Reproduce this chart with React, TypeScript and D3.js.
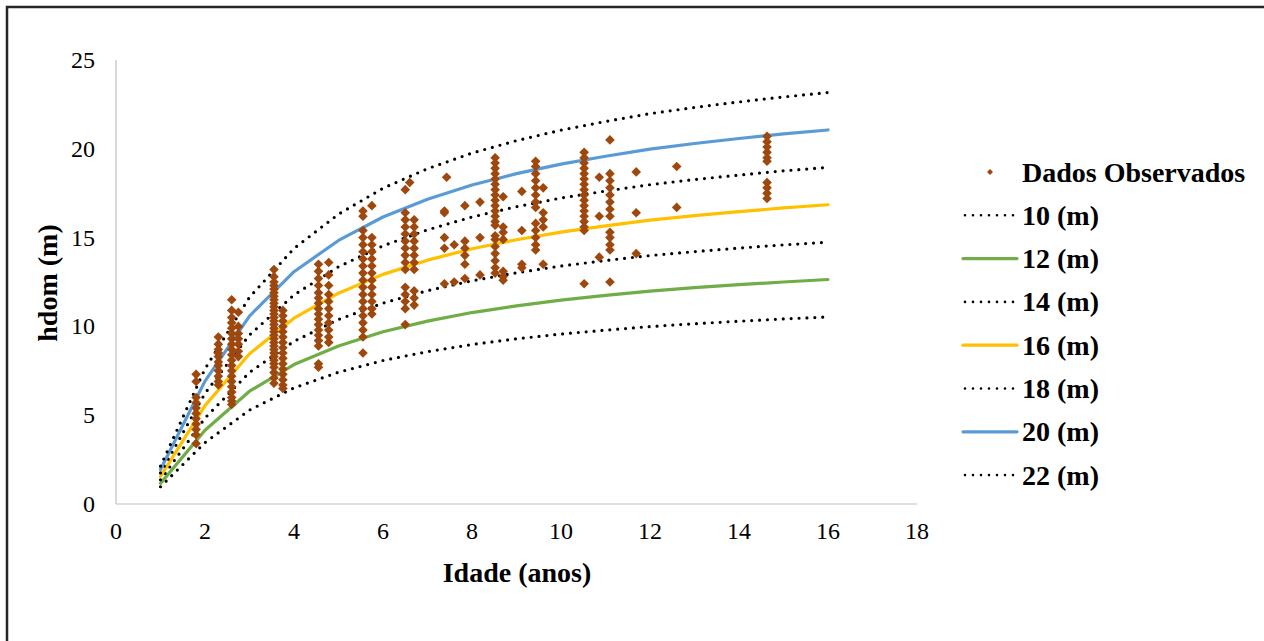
import React from "react";
import * as d3 from "d3";

// ---------- data ----------
const ages = [1, 2, 3, 4, 5, 6, 7, 8, 9, 10, 11, 12, 13, 14, 15, 16];

const curve10 = [0.97, 3.46, 5.29, 6.54, 7.42, 8.08, 8.58, 8.98, 9.3, 9.57, 9.79, 9.99, 10.15, 10.29, 10.42, 10.53];
const curve12 = [1.16, 4.15, 6.35, 7.85, 8.9, 9.7, 10.3, 10.78, 11.16, 11.48, 11.75, 11.99, 12.18, 12.35, 12.5, 12.64];
const curve14 = [1.36, 4.84, 7.41, 9.16, 10.39, 11.31, 12.01, 12.57, 13.02, 13.4, 13.71, 13.99, 14.21, 14.41, 14.59, 14.74];
const curve16 = [1.55, 5.54, 8.46, 10.46, 11.87, 12.93, 13.73, 14.37, 14.88, 15.31, 15.66, 15.98, 16.24, 16.46, 16.67, 16.85];
const curve18 = [1.75, 6.23, 9.52, 11.77, 13.36, 14.54, 15.44, 16.16, 16.74, 17.23, 17.62, 17.98, 18.27, 18.52, 18.76, 18.95];
const curve20 = [1.94, 6.92, 10.58, 13.08, 14.84, 16.16, 17.16, 17.96, 18.6, 19.14, 19.58, 19.98, 20.3, 20.58, 20.84, 21.06];
const curve22 = [2.13, 7.61, 11.64, 14.39, 16.32, 17.78, 18.88, 19.76, 20.46, 21.05, 21.54, 21.98, 22.33, 22.64, 22.92, 23.17];

const seriesNames = ["10 (m)", "12 (m)", "14 (m)", "16 (m)", "18 (m)", "20 (m)", "22 (m)"];
const seriesValues = [curve10, curve12, curve14, curve16, curve18, curve20, curve22];
const seriesColors = ["#000000", "#70AD47", "#000000", "#FFC000", "#000000", "#5B9BD5", "#000000"];
const seriesDotted = [true, false, true, false, true, false, true];

// observed data: age of each measurement column and the heights in it
const obsAges = [1.8, 2.3, 2.6, 2.75, 3.55, 3.75, 4.55, 4.78, 5.55, 5.75, 6.5, 6.6, 6.7, 7.38, 7.43, 7.6, 7.84, 8.18, 8.52, 8.7, 9.12, 9.43, 9.6, 10.52, 10.86, 11.1, 11.69, 12.6, 14.63];
const obsHeights = [
  [7.3, 6.9, 6.0, 5.7, 5.4, 5.1, 4.8, 4.5, 4.2, 3.9, 3.4],
  [9.4, 9.0, 8.7, 8.5, 8.3, 8.0, 7.8, 7.5, 7.2, 6.9, 6.7],
  [11.5, 10.9, 10.5, 10.2, 9.9, 9.6, 9.3, 9.0, 8.7, 8.4, 8.1, 7.8, 7.5, 7.2, 6.9, 6.6, 6.3, 6.0, 5.8, 5.6],
  [10.8, 10.0, 9.6, 9.3, 9.0, 8.6, 8.3],
  [13.2, 12.8, 12.5, 12.3, 12.1, 11.9, 11.7, 11.5, 11.3, 11.1, 10.9, 10.7, 10.5, 10.3, 10.1, 9.9, 9.7, 9.5, 9.3, 9.1, 8.9, 8.7, 8.5, 8.3, 8.1, 7.9, 7.7, 7.4, 7.1, 6.8],
  [10.9, 10.6, 10.3, 10.0, 9.7, 9.4, 9.1, 8.8, 8.5, 8.2, 7.9, 7.6, 7.3, 7.0, 6.7, 6.5],
  [13.5, 13.1, 12.7, 12.3, 11.9, 11.6, 11.3, 11.0, 10.7, 10.4, 10.1, 9.8, 9.5, 9.2, 8.9, 7.9, 7.7],
  [13.6, 12.9, 12.3, 11.8, 11.4, 11.0, 10.6, 10.2, 9.8, 9.4, 9.1],
  [16.5, 16.2, 15.4, 15.0, 14.6, 14.2, 13.8, 13.4, 13.0, 12.6, 12.2, 11.8, 11.4, 11.0, 10.6, 10.2, 9.8, 9.4, 8.5],
  [16.8, 15.0, 14.6, 14.2, 13.8, 13.4, 13.0, 12.6, 12.2, 11.8, 11.4, 11.0, 10.7],
  [17.7, 16.4, 16.0, 15.6, 15.2, 14.8, 14.4, 14.0, 13.6, 13.2, 12.2, 11.8, 11.4, 11.0, 10.1],
  [18.1],
  [16.0, 15.6, 15.2, 14.8, 14.4, 14.0, 13.6, 13.2, 12.0, 11.6, 11.2],
  [16.5, 16.4, 15.0, 14.4, 12.4],
  [18.4],
  [14.6, 12.5],
  [16.8, 14.8, 14.4, 14.0, 13.5, 12.7],
  [17.0, 15.0, 12.9],
  [19.5, 19.2, 18.9, 18.6, 18.3, 18.0, 17.7, 17.4, 17.1, 16.8, 16.5, 16.2, 15.9, 15.7, 15.1, 14.9, 14.5, 14.1, 13.7, 13.3, 13.0],
  [17.3, 15.6, 15.3, 14.9, 13.1, 12.8, 12.6],
  [17.6, 15.4, 13.5, 13.3],
  [19.3, 19.0, 18.6, 18.2, 17.8, 17.4, 17.0, 16.7, 15.8, 15.4, 15.0, 14.6, 14.3],
  [17.8, 16.4, 16.0, 15.6, 13.5],
  [19.8, 19.5, 19.2, 18.9, 18.6, 18.3, 18.0, 17.7, 17.4, 17.1, 16.8, 16.5, 16.2, 15.9, 15.6, 15.4, 12.4],
  [18.4, 16.2, 13.9],
  [20.5, 18.6, 18.2, 17.8, 17.4, 17.0, 16.6, 16.2, 15.3, 15.0, 14.6, 14.3, 12.5],
  [18.7, 16.4, 14.1],
  [19.0, 16.7],
  [20.7, 20.4, 20.1, 19.8, 19.5, 19.3, 18.1, 17.8, 17.5, 17.2],
];

const xTicks = [0, 2, 4, 6, 8, 10, 12, 14, 16, 18];
const yTicks = [0, 5, 10, 15, 20, 25];
const obsName = "Dados Observados";
const xTitle = "Idade (anos)";
const yTitle = "hdom (m)";

// ---------- layout ----------
const W = 1264;
const H = 641;
const FONT = "'Liberation Serif', 'Times New Roman', serif";
const BROWN = "#9E480E";

export default function App() {
  const x = d3.scaleLinear().domain([0, 18]).range([116, 917]);
  const y = d3.scaleLinear().domain([0, 25]).range([504, 60]);

  const line = d3
    .line<[number, number]>()
    .x((d) => x(d[0]))
    .y((d) => y(d[1]));

  const diamond = (s: number) => `M0,${-s}L${s},0L0,${s}L${-s},0Z`;

  const points: [number, number][] = [];
  obsAges.forEach((a, i) => obsHeights[i].forEach((h) => points.push([a, h])));

  const legendX0 = 963;
  const legendX1 = 1017;
  const legendTextX = 1022;
  const legendY0 = 172;
  const legendStep = 43.3;

  return (
    <svg
      width={W}
      height={H}
      style={{ position: "absolute", left: 0, top: 0, background: "#fff" }}
    >
      <rect x={0} y={0} width={W} height={H} fill="#fff" />
      <rect x={7} y={7} width={1300} height={700} fill="none" stroke="#262626" strokeWidth={2.5} />

      {/* axes */}
      <line x1={x(0)} x2={x(0)} y1={y(25)} y2={y(0)} stroke="#BFBFBF" strokeWidth={1.2} />
      <line x1={x(0)} x2={x(18)} y1={y(0)} y2={y(0)} stroke="#BFBFBF" strokeWidth={1.2} />

      {yTicks.map((t) => (
        <text
          key={"y" + t}
          x={95}
          y={y(t)}
          textAnchor="end"
          dominantBaseline="central"
          fontFamily={FONT}
          fontSize={24}
          fill="#000"
        >
          {t}
        </text>
      ))}
      {xTicks.map((t) => (
        <text
          key={"x" + t}
          x={x(t)}
          y={531}
          textAnchor="middle"
          dominantBaseline="central"
          fontFamily={FONT}
          fontSize={24}
          fill="#000"
        >
          {t}
        </text>
      ))}

      <text
        x={517}
        y={572}
        textAnchor="middle"
        dominantBaseline="central"
        fontFamily={FONT}
        fontWeight="bold"
        fontSize={28}
      >
        {xTitle}
      </text>
      <text
        transform={`translate(47,283) rotate(-90)`}
        textAnchor="middle"
        dominantBaseline="central"
        fontFamily={FONT}
        fontWeight="bold"
        fontSize={28}
      >
        {yTitle}
      </text>

      {/* curves */}
      {seriesValues.map((vals, i) => (
        <path
          key={"c" + i}
          d={line(ages.map((a, j) => [a, vals[j]] as [number, number])) || ""}
          fill="none"
          stroke={seriesColors[i]}
          strokeWidth={3.2}
          strokeDasharray={seriesDotted[i] ? "0 7.9" : undefined}
          strokeLinecap="round"
          strokeLinejoin="round"
        />
      ))}

      {/* observed points */}
      {points.map((p, i) => (
        <path
          key={"p" + i}
          d={diamond(4.8)}
          transform={`translate(${x(p[0])},${y(p[1])})`}
          fill={BROWN}
        />
      ))}

      {/* legend */}
      <path d={diamond(3)} transform={`translate(990,${legendY0})`} fill={BROWN} />
      <text
        x={legendTextX}
        y={legendY0}
        dominantBaseline="central"
        fontFamily={FONT}
        fontWeight="bold"
        fontSize={28}
      >
        {obsName}
      </text>
      {seriesNames.map((name, i) => {
        const ly = legendY0 + legendStep * (i + 1);
        return (
          <g key={"l" + i}>
            <line
              x1={legendX0 + (seriesDotted[i] ? 2 : 0)}
              x2={legendX1}
              y1={ly}
              y2={ly}
              stroke={seriesColors[i]}
              strokeWidth={seriesDotted[i] ? 2.6 : 3.2}
              strokeDasharray={seriesDotted[i] ? "0 8" : undefined}
              strokeLinecap="round"
            />
            <text
              x={legendTextX}
              y={ly}
              dominantBaseline="central"
              fontFamily={FONT}
              fontWeight="bold"
              fontSize={28}
            >
              {name}
            </text>
          </g>
        );
      })}
    </svg>
  );
}
